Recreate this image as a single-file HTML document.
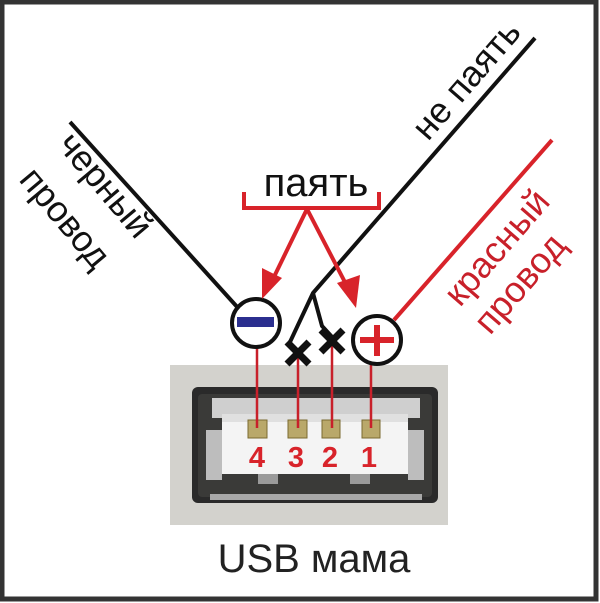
<!DOCTYPE html>
<html><head><meta charset="utf-8"><style>
html,body{margin:0;padding:0;background:#fff;}
svg{display:block;}
text{font-family:"Liberation Sans","DejaVu Sans",sans-serif;}
</style></head><body>
<svg width="600" height="603" viewBox="0 0 600 603" xmlns="http://www.w3.org/2000/svg">
<rect x="0" y="0" width="600" height="603" fill="#fff"/>
<!-- connector photo -->
<rect x="170" y="365" width="278" height="160" fill="#d3d2cd"/>
<rect x="192" y="387" width="246" height="116" rx="6" fill="#2a2a2a"/>
<rect x="198" y="394" width="234" height="103" rx="4" fill="#3a3a38"/>
<rect x="212" y="398" width="208" height="20" fill="#cfcfcf"/>
<rect x="222" y="414" width="186" height="60" fill="#f4f4f4"/>
<rect x="222" y="414" width="186" height="8" fill="#e0e0e0"/>
<rect x="206" y="430" width="16" height="50" fill="#bdbdbd"/>
<rect x="408" y="430" width="16" height="50" fill="#bdbdbd"/>
<rect x="258" y="474" width="20" height="10" fill="#9a9a9a"/>
<rect x="350" y="474" width="20" height="10" fill="#9a9a9a"/>
<rect x="210" y="494" width="212" height="6" fill="#a8a8a8"/>
<!-- pins -->
<g fill="#b9a86a" stroke="#7a6a30" stroke-width="1">
<rect x="248" y="420" width="19" height="18"/>
<rect x="288" y="420" width="19" height="18"/>
<rect x="322" y="420" width="18" height="18"/>
<rect x="362" y="420" width="18" height="18"/>
</g>
<g fill="#d8232a" font-weight="bold" font-size="29" text-anchor="middle">
<text x="257" y="467">4</text>
<text x="296" y="467">3</text>
<text x="330" y="467">2</text>
<text x="369" y="467">1</text>
</g>
<!-- red verticals -->
<g stroke="#c8202a" stroke-width="2.5">
<line x1="257" y1="347" x2="257" y2="428"/>
<line x1="298" y1="356" x2="298" y2="428"/>
<line x1="332" y1="342" x2="332" y2="428"/>
<line x1="371" y1="365" x2="371" y2="428"/>
</g>
<!-- black wire -->
<line x1="70" y1="122" x2="239" y2="309" stroke="#111" stroke-width="4"/>
<!-- не паять wire -->
<polyline points="535,38 313,293 290,342" fill="none" stroke="#111" stroke-width="4"/>
<polyline points="313,293 322,326 333,338" fill="none" stroke="#111" stroke-width="4"/>
<g stroke="#111" stroke-width="7">
<line x1="287" y1="342" x2="309" y2="364"/><line x1="309" y1="342" x2="287" y2="364"/>
<line x1="321" y1="330" x2="343" y2="352"/><line x1="343" y1="330" x2="321" y2="352"/>
</g>
<!-- red wire -->
<line x1="552" y1="140" x2="394" y2="320" stroke="#d8232a" stroke-width="4"/>
<!-- circles -->
<circle cx="256" cy="323" r="24" fill="#fff" stroke="#111" stroke-width="4"/>
<rect x="237" y="317" width="37" height="10" fill="#2b2f8f"/>
<circle cx="377" cy="340" r="24" fill="#fff" stroke="#111" stroke-width="4"/>
<rect x="360" y="337" width="34" height="6" fill="#d8232a"/>
<rect x="374" y="325" width="6" height="31" fill="#d8232a"/>
<!-- bracket and arrows -->
<polyline points="244,192 244,208 379,208 379,192" fill="none" stroke="#d8232a" stroke-width="4"/>
<g stroke="#d8232a" stroke-width="4">
<line x1="307" y1="209" x2="272" y2="281"/>
<line x1="307" y1="209" x2="349" y2="290"/>
</g>
<polygon points="262,299 262,268 282,278" fill="#d8232a"/>
<polygon points="356,308 337,283 360,275" fill="#d8232a"/>
<text x="316" y="196" font-size="40" fill="#111" text-anchor="middle">паять</text>
<!-- rotated labels -->
<text transform="translate(56,145) rotate(50)" font-size="36" fill="#111">черный</text>
<text transform="translate(18,180) rotate(50)" font-size="36" fill="#111">провод</text>
<text transform="translate(428,142) rotate(-49)" font-size="36" fill="#111">не паять</text>
<text transform="translate(460,308) rotate(-49)" font-size="36" fill="#c8202a">красный</text>
<text transform="translate(490,336) rotate(-49)" font-size="36" fill="#c8202a">провод</text>
<text x="314" y="572" font-size="40" fill="#222" text-anchor="middle">USB мама</text>
<!-- border -->
<rect x="2" y="2" width="594" height="597" fill="none" stroke="#333" stroke-width="5"/>
</svg>
</body></html>
